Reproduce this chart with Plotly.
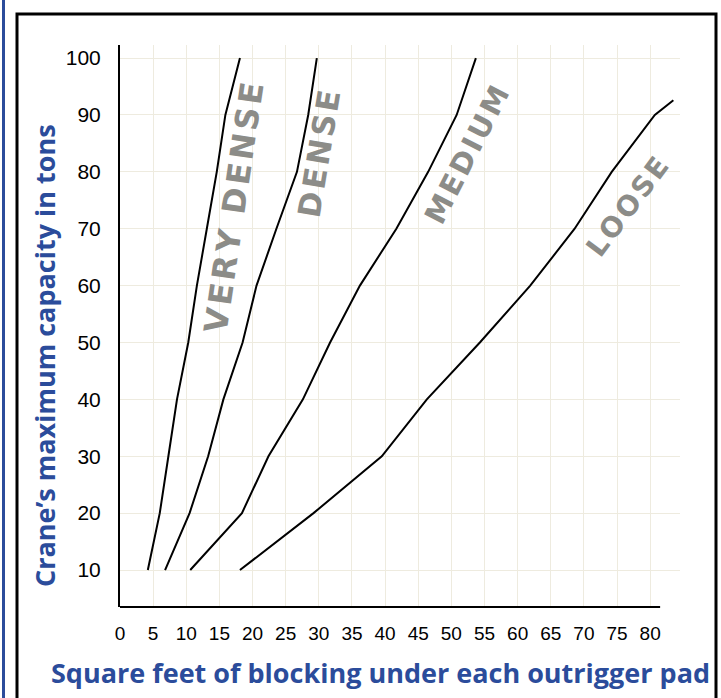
import plotly.graph_objects as go

# ---- data ----
capacity_tons = [10, 20, 30, 40, 50, 60, 70, 80, 90, 100]
very_dense_sqft = [4.2, 6.0, 7.3, 8.6, 10.3, 11.6, 13.1, 14.6, 15.9, 18.1]
dense_sqft = [6.8, 10.5, 13.3, 15.6, 18.5, 20.6, 23.6, 26.7, 28.4, 29.7]
medium_sqft = [10.6, 18.4, 22.4, 27.6, 31.7, 36.2, 41.7, 46.5, 50.8, 53.7]
loose_tons = [10, 20, 30, 40, 50, 60, 70, 80, 90, 92.6]
loose_sqft = [18.1, 29.2, 39.5, 46.3, 54.3, 61.9, 68.6, 74.2, 80.7, 83.5]

soil_labels = ["VERY DENSE", "DENSE", "MEDIUM", "LOOSE"]
x_ticks = list(range(0, 81, 5))
y_ticks = list(range(10, 101, 10))

x_title = "Square feet of blocking under each outrigger pad"
y_title = "Crane\u2019s maximum capacity in tons"

BLUE = "#2B4C9B"
GRAY = "#8C8C88"
GRID = "#EEEBDF"

fig = go.Figure()
series = [
    (very_dense_sqft, capacity_tons),
    (dense_sqft, capacity_tons),
    (medium_sqft, capacity_tons),
    (loose_sqft, loose_tons),
]
for (xs, ys), name in zip(series, soil_labels):
    fig.add_trace(go.Scatter(x=xs, y=ys, mode="lines", name=name,
                             line=dict(color="black", width=2),
                             showlegend=False, hoverinfo="x+y+name"))

# geometry of plot area (pixels)
L, R, T, B = 120, 41, 45, 91
W, H = 721, 698
pw, ph = W - L - R, H - T - B
XMAX = 84.5
YMIN, YMAX = 3.5, 102.3


def px(xp):
    return (xp - L) / pw


def py(yp):
    return (H - B - yp) / ph


def spaced(text):
    return "\u2002".join("\u200a".join(list(w)) for w in text.split(" "))


label_pos = [  # (pixel x, pixel y, angle, font size)
    (234, 208, -81.5, 32),
    (319, 154, -80.5, 31),
    (467, 155, -63, 29),
    (628, 207, -53, 28),
]
for text, (xp, yp, ang, fs) in zip(soil_labels, label_pos):
    fig.add_annotation(x=px(xp), y=py(yp), xref="paper", yref="paper",
                       xanchor="center", yanchor="middle",
                       text="<b>" + spaced(text) + "</b>", showarrow=False,
                       textangle=ang,
                       font=dict(family="DejaVu Sans", size=fs, color=GRAY))

# axis titles
fig.add_annotation(x=px(45), y=py(356), xref="paper", yref="paper",
                   xanchor="center", yanchor="middle",
                   text="<b>" + y_title + "</b>", showarrow=False, textangle=-90,
                   font=dict(family="Open Sans", size=27, color=BLUE))
fig.add_annotation(x=px(380), y=py(672), xref="paper", yref="paper",
                   xanchor="center", yanchor="middle",
                   text="<b>" + x_title + "</b>", showarrow=False,
                   font=dict(family="Open Sans", size=27, color=BLUE))

shapes = [
    # x-axis line (ends at ~81)
    dict(type="line", xref="x", yref="paper", x0=0, x1=81.5, y0=0, y1=0,
         line=dict(color="black", width=2)),
    # black frame
    dict(type="rect", xref="paper", yref="paper",
         x0=px(17), x1=px(716), y0=py(730), y1=py(14),
         line=dict(color="black", width=3), fillcolor="rgba(0,0,0,0)", layer="below"),
    # blue strip on the left edge
    dict(type="line", xref="paper", yref="paper",
         x0=px(3.5), x1=px(3.5), y0=py(0), y1=py(698),
         line=dict(color=BLUE, width=3)),
]

fig.update_layout(
    width=W, height=H,
    margin=dict(l=L, r=R, t=T, b=B, autoexpand=False),
    paper_bgcolor="white", plot_bgcolor="white",
    shapes=shapes,
    xaxis=dict(range=[0, XMAX], tickmode="array", tickvals=x_ticks,
               ticktext=[str(v) for v in x_ticks], automargin=False,
               showgrid=True, gridcolor=GRID, gridwidth=1,
               zeroline=False, showline=False, ticks="",
               ticklabelstandoff=13,
               tickfont=dict(family="Liberation Sans", size=19, color="black")),
    yaxis=dict(range=[YMIN, YMAX], tickmode="array", tickvals=y_ticks,
               ticktext=[str(v) for v in y_ticks], automargin=False,
               showgrid=True, gridcolor=GRID, gridwidth=1,
               zeroline=False, showline=True, linecolor="black", linewidth=2,
               ticks="", ticklabelstandoff=13,
               tickfont=dict(family="Liberation Sans", size=21, color="black")),
)

fig.write_html("out.html", config={"displayModeBar": False},
               post_script="document.body.style.margin='0';document.body.style.overflow='hidden';")
